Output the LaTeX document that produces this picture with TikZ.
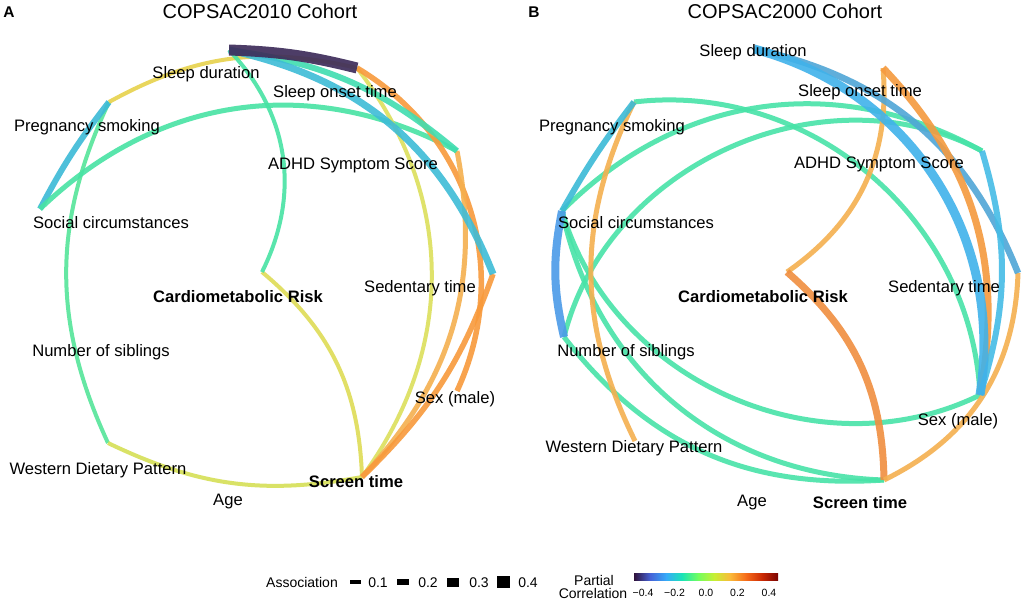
\documentclass[tikz,border=0pt]{standalone}
\usepackage{fontspec}
\setmainfont{Liberation Sans}
\newcommand\labfont{\fontsize{16.6}{19}\selectfont}
\newcommand\titfont{\fontsize{20}{24}\selectfont}
\newcommand\legfont{\fontsize{14}{16}\selectfont}
\newcommand\tickfont{\fontsize{10.5}{12}\selectfont}
\definecolor{cPurple}{HTML}{3E2D5B}
\definecolor{cBlueA}{HTML}{3DBCD7}
\definecolor{cBlueB}{HTML}{3BBAD6}
\definecolor{cBlueC}{HTML}{40B2EA}
\definecolor{cBlueD}{HTML}{4FA6D6}
\definecolor{cBlueE}{HTML}{45BCE6}
\definecolor{cBlueF}{HTML}{4B9BE8}
\definecolor{cGreenA}{HTML}{47E3A4}
\definecolor{cGreenB}{HTML}{55E59A}
\definecolor{cGreenC}{HTML}{48E3A8}
\definecolor{cTeal}{HTML}{40DDB0}
\definecolor{cYelA}{HTML}{E7D24C}
\definecolor{cYelB}{HTML}{DCDF5C}
\definecolor{cYelC}{HTML}{D5DF56}
\definecolor{cYelD}{HTML}{DEDC56}
\definecolor{cOrA}{HTML}{F89A3B}
\definecolor{cOrB}{HTML}{F5B04F}
\definecolor{cOrC}{HTML}{F59A3E}
\definecolor{cOrD}{HTML}{F08E40}
\definecolor{tA}{HTML}{30123B}
\definecolor{tB}{HTML}{4662D7}
\definecolor{tC}{HTML}{36AAF9}
\definecolor{tD}{HTML}{1AE4B6}
\definecolor{tE}{HTML}{72FE5E}
\definecolor{tF}{HTML}{C7EF34}
\definecolor{tG}{HTML}{FABA39}
\definecolor{tH}{HTML}{F66B19}
\definecolor{tI}{HTML}{CB2A04}
\definecolor{tJ}{HTML}{7A0403}
\tikzset{
  edge/.style={draw opacity=0.9},
  lab/.style={font=\labfont, anchor=base, inner sep=0pt},
  labb/.style={font=\labfont\bfseries, anchor=base, inner sep=0pt},
  tit/.style={font=\titfont, anchor=base, inner sep=0pt},
  panel/.style={font=\fontsize{15.5}{18}\selectfont\bfseries, anchor=base, inner sep=0pt},
  leg/.style={font=\legfont, anchor=base, inner sep=0pt},
  tick/.style={font=\tickfont, anchor=base, inner sep=0pt},
  key/.style={fill=black, inner sep=0pt, minimum width=12pt}
}
\begin{document}
\begin{tikzpicture}[x=1pt,y=1pt]
\fill[white] (0,0) rectangle (1024,-602);
\useasboundingbox (0,0) rectangle (1024,-602);
% ---------- panel A node points
\coordinate (aSD) at (229,-50);
\coordinate (aSO) at (357,-68);
\coordinate (aAD) at (457,-151);
\coordinate (aSE) at (493,-274);
\coordinate (aSX) at (457,-391);
\coordinate (aST) at (362,-477);
\coordinate (aWD) at (108,-443);
\coordinate (aSC) at (40,-209);
\coordinate (aPS) at (109,-102);
\coordinate (aCM) at (262,-272);
% ---------- panel B node points
\coordinate (bSD) at (754,-49);
\coordinate (bSO) at (883,-68);
\coordinate (bAD) at (982,-151);
\coordinate (bSE) at (1018,-273);
\coordinate (bSX) at (980,-395);
\coordinate (bST) at (884,-480);
\coordinate (bWD) at (635,-441);
\coordinate (bNS) at (564,-337);
\coordinate (bSC) at (562,-211);
\coordinate (bPS) at (634,-102);
\coordinate (bCM) at (787,-272);
% ---------- panel A edges
\draw[edge,cGreenB,line width=4pt] (aPS) to[bend right=25] (aWD);
\draw[edge,cYelC,line width=4pt] (aWD) to[bend right=18] (aST);
\draw[edge,cYelD,line width=4pt] (aCM) to[bend left=24] (aST);
\draw[edge,cBlueB,line width=6pt] (aPS) to[bend right=5] (aSC);
\draw[edge,cGreenA,line width=5pt] (aSC) to[bend left=36] (aAD);
\draw[edge,cYelA,line width=4pt] (aPS) to[bend left=21] (aSO);
\draw[edge,cYelB,line width=4pt] (aSO) to[bend left=37] (aST);
\draw[edge,cOrA,line width=5.5pt] (aSO) to[bend left=42] (aSX);
\draw[edge,cOrB,line width=5pt] (aAD) to[bend left=27] (aST);
\draw[edge,cOrA,line width=5.5pt] (aSE) to[bend left=13] (aST);
\draw[edge,cGreenA,line width=4pt] (aSD) to[bend left=35] (aCM);
\draw[edge,cTeal,line width=6pt] (aSD) to[bend left=16] (aAD);
\draw[edge,cBlueA,line width=7pt] (aSD) to[bend left=28] (aSE);
\draw[edge,cPurple,line width=11pt,draw opacity=0.92] (aSD) to[bend left=6] (aSO);
% ---------- panel B edges
\draw[edge,cGreenC,line width=5pt] (bPS) to[bend left=47] (bSX);
\draw[edge,cGreenC,line width=5pt] (bSC) to[bend left=37] (bAD);
\draw[edge,cGreenC,line width=5pt] (bNS) to[bend left=52] (bAD);
\draw[edge,cGreenC,line width=5pt] (bSC) to[bend right=50] (bSX);
\draw[edge,cGreenC,line width=5pt] (bSC) to[bend right=38] (bST);
\draw[edge,cGreenC,line width=5pt] (bNS) to[bend right=28] (bST);
\draw[edge,cOrB,line width=5pt] (bPS) to[bend right=26] (bWD);
\draw[edge,cBlueB,line width=6pt] (bPS) to[bend right=4] (bSC);
\draw[edge,cBlueF,line width=8pt] (bSC) to[bend right=12] (bNS);
\draw[edge,cOrB,line width=5pt] (bSO) to[bend left=30] (bCM);
\draw[edge,cOrD,line width=7pt] (bCM) to[bend left=24] (bST);
\draw[edge,cOrB,line width=5pt] (bSE) to[bend left=31] (bST);
\draw[edge,cBlueD,line width=6.5pt] (bSD) to[bend left=28] (bSE);
\draw[edge,cOrC,line width=7pt] (bSO) to[bend left=27] (bSX);
\draw[edge,cBlueE,line width=6pt] (bAD) to[bend left=17] (bSX);
\draw[edge,cBlueC,line width=9pt] (bSD) to[bend left=42] (bSX);
% ---------- titles
\node[panel] (pA) at (9,-18) {A};
\node[panel] (pB) at (534,-18) {B};
\node[tit] (tAt) at (260,-18.5) {COPSAC2010 Cohort};
\node[tit] (tBt) at (785,-18.5) {COPSAC2000 Cohort};
% ---------- panel A labels
\node[lab] (lASD) at (206,-78.5) {Sleep duration};
\node[lab] (lASO) at (335,-97) {Sleep onset time};
\node[lab] (lAPS) at (87,-131.5) {Pregnancy smoking};
\node[lab] (lAAD) at (353,-169) {ADHD Symptom Score};
\node[lab] (lASC) at (111,-228) {Social circumstances};
\node[labb] (lACM) at (238,-302.5) {Cardiometabolic Risk};
\node[lab] (lASE) at (420,-292.5) {Sedentary time};
\node[lab] (lANS) at (101,-356.5) {Number of siblings};
\node[lab] (lASX) at (455,-403.5) {Sex (male)};
\node[lab] (lAWD) at (98,-474.5) {Western Dietary Pattern};
\node[labb] (lAST) at (356,-487.5) {Screen time};
\node[lab] (lAAG) at (228,-505.5) {Age};
% ---------- panel B labels
\node[lab] (lBSD) at (753,-56.5) {Sleep duration};
\node[lab] (lBSO) at (860,-96.5) {Sleep onset time};
\node[lab] (lBPS) at (612,-131.5) {Pregnancy smoking};
\node[lab] (lBAD) at (879,-168.5) {ADHD Symptom Score};
\node[lab] (lBSC) at (636,-228.5) {Social circumstances};
\node[lab] (lBSE) at (944,-292.5) {Sedentary time};
\node[labb] (lBCM) at (763,-302.5) {Cardiometabolic Risk};
\node[lab] (lBNS) at (626,-356.5) {Number of siblings};
\node[lab] (lBSX) at (958,-425.5) {Sex (male)};
\node[lab] (lBWD) at (634,-452.5) {Western Dietary Pattern};
\node[lab] (lBAG) at (752,-506.5) {Age};
\node[labb] (lBST) at (860,-508.5) {Screen time};
% ---------- legend: association
\node[leg, anchor=base east] (lgA) at (338,-587) {Association};
\node[key, minimum width=11pt, minimum height=3.5pt] (k1) at (355,-582) {};
\node[leg] (v1) at (378,-587) {0.1};
\node[key, minimum height=5.5pt] (k2) at (403,-582) {};
\node[leg] (v2) at (428,-587) {0.2};
\node[key, minimum height=9pt] (k3) at (453,-582) {};
\node[leg] (v3) at (479,-587) {0.3};
\node[key, minimum width=13pt, minimum height=12.5pt] (k4) at (503,-582) {};
\node[leg] (v4) at (528,-587) {0.4};
% ---------- legend: partial correlation
\node[leg] (lgP1) at (594,-585) {Partial};
\node[leg] (lgP2) at (593,-598) {Correlation};
\shade[left color=tA, right color=tB] (634,-573) rectangle (650.3,-580);
\shade[left color=tB, right color=tC] (650,-573) rectangle (666.3,-580);
\shade[left color=tC, right color=tD] (666,-573) rectangle (682.3,-580);
\shade[left color=tD, right color=tE] (682,-573) rectangle (698.3,-580);
\shade[left color=tE, right color=tF] (698,-573) rectangle (714.3,-580);
\shade[left color=tF, right color=tG] (714,-573) rectangle (730.3,-580);
\shade[left color=tG, right color=tH] (730,-573) rectangle (746.3,-580);
\shade[left color=tH, right color=tI] (746,-573) rectangle (762.3,-580);
\shade[left color=tI, right color=tJ] (762,-573) rectangle (778,-580);
\node[tick] (c1) at (643,-596.5) {−0.4};
\node[tick] (c2) at (674.5,-596.5) {−0.2};
\node[tick] (c3) at (706,-596.5) {0.0};
\node[tick] (c4) at (737.5,-596.5) {0.2};
\node[tick] (c5) at (769,-596.5) {0.4};
\end{tikzpicture}
\end{document}
